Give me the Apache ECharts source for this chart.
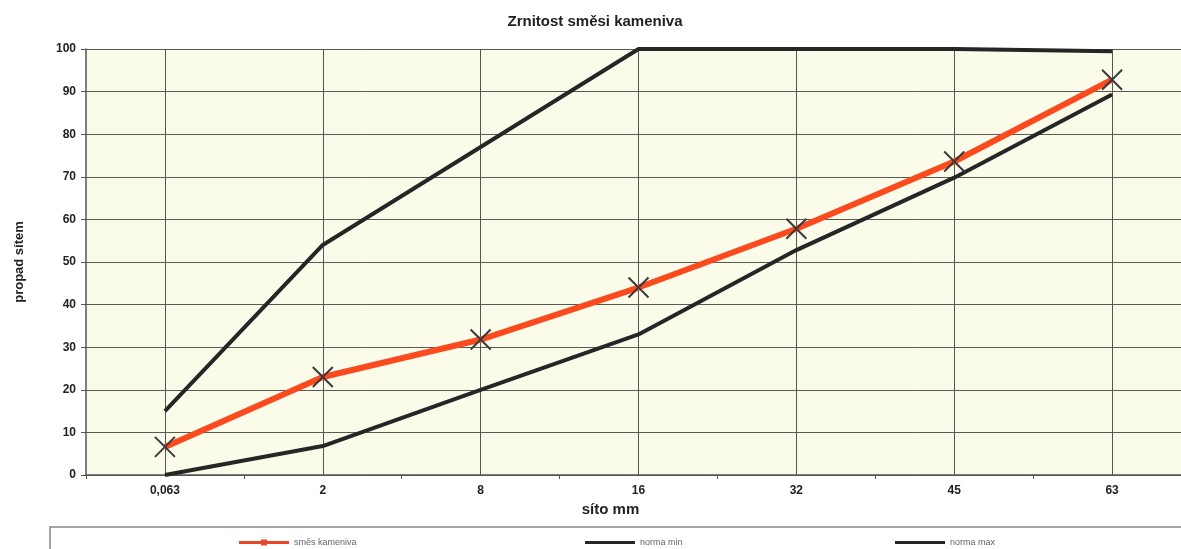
<!DOCTYPE html>
<html>
<head>
<meta charset="utf-8">
<script src="https://cdn.jsdelivr.net/npm/echarts@6/dist/echarts.min.js"></script>
<style>
  html, body { margin: 0; padding: 0; background: #fff; overflow: hidden; }
  #ec { width: 1200px; height: 549px; }
</style>
</head>
<body>
<div id="ec"></div>
<script>
// síta a propady
var sita = ['0,063', '2', '8', '16', '32', '45', '63'];
var smes = [6.6, 23, 31.8, 44, 57.8, 73.6, 92.8];
var normaMin = [0, 6.8, 20, 33, 52.8, 69.8, 89.3];
var normaMax = [15, 54, 77, 100, 100, 100, 99.5];

var font = '"Liberation Sans", Arial, sans-serif';

var myEchart = echarts.init(document.getElementById('ec'));
myEchart.setOption({
  animation: false,
  title: {
    text: 'Zrnitost směsi kameniva',
    left: 590,
    top: 9,
    textAlign: 'center',
    textStyle: { fontFamily: font, fontSize: 15, fontWeight: 'bold', color: '#222' }
  },
  grid: {
    left: 86,
    top: 49,
    right: 9,
    bottom: 74,
    show: true,
    backgroundColor: '#fbfbea',
    borderWidth: 0
  },
  legend: [
    {
      data: [{
        name: 'směs kameniva',
        icon: 'path://M0,2.5H22V1H28V2.5H50V5.5H28V7H22V5.5H0Z',
        itemStyle: { color: '#e8472a', borderWidth: 0 }
      }],
      left: 234, top: 533
    },
    { data: [{ name: 'norma min', icon: 'rect' }], left: 580, top: 533 },
    { data: [{ name: 'norma max', icon: 'rect' }], left: 890, top: 533 }
  ].map(function (l) {
    l.itemWidth = 50;
    l.itemHeight = l.data[0].icon === 'rect' ? 3 : 8;
    l.itemGap = 4;
    l.textStyle = { fontFamily: font, fontSize: 9, color: '#666' };
    return l;
  }),
  graphic: [{
    type: 'rect',
    shape: { x: 50, y: 527, width: 1200, height: 60 },
    style: { fill: 'none', stroke: '#888', lineWidth: 1.5 },
    silent: true
  }],
  xAxis: {
    type: 'category',
    data: sita,
    boundaryGap: true,
    name: 'síto mm',
    nameLocation: 'middle',
    nameGap: 3,
    nameTextStyle: { fontFamily: font, fontSize: 15, fontWeight: 'bold', color: '#222', padding: [0, 56, 0, 0] },
    axisLine: { lineStyle: { color: '#555', width: 1.5 } },
    axisTick: { show: true, length: 4, lineStyle: { color: '#555' } },
    axisLabel: { fontFamily: font, fontSize: 12, fontWeight: 'bold', color: '#222', margin: 10 },
    splitLine: { show: false }
  },
  yAxis: {
    type: 'value',
    min: 0,
    max: 100,
    interval: 10,
    name: 'propad sítem',
    nameLocation: 'middle',
    nameGap: 60,
    nameTextStyle: { fontFamily: font, fontSize: 13, fontWeight: 'bold', color: '#222' },
    axisLine: { show: true, lineStyle: { color: '#555', width: 1.5 } },
    axisTick: { show: true, length: 5, lineStyle: { color: '#555' } },
    axisLabel: { fontFamily: font, fontSize: 12, fontWeight: 'bold', color: '#222', margin: 10 },
    splitLine: { show: true, lineStyle: { color: '#5a5a55', width: 1 } }
  },
  series: [
    {
      name: 'norma min',
      type: 'line',
      data: normaMin,
      symbol: 'none',
      z: 3,
      lineStyle: { color: '#262626', width: 4 },
      itemStyle: { color: '#262626' },
      markLine: {
        silent: true,
        symbol: 'none',
        label: { show: false },
        lineStyle: { color: '#555', width: 1, type: 'solid' },
        z: 1,
        data: sita.map(function (s) { return { xAxis: s }; })
      }
    },
    {
      name: 'norma max',
      type: 'line',
      data: normaMax,
      symbol: 'none',
      z: 3,
      lineStyle: { color: '#262626', width: 4 },
      itemStyle: { color: '#262626' }
    },
    {
      name: 'směs kameniva',
      type: 'line',
      data: smes,
      symbol: 'path://M0,0L10,10M10,0L0,10',
      symbolSize: 20,
      showSymbol: true,
      z: 4,
      lineStyle: { color: '#fa4a1e', width: 6 },
      itemStyle: { color: 'transparent', borderColor: '#3a3a3a', borderWidth: 2 }
    }
  ]
});
</script>
</body>
</html>
